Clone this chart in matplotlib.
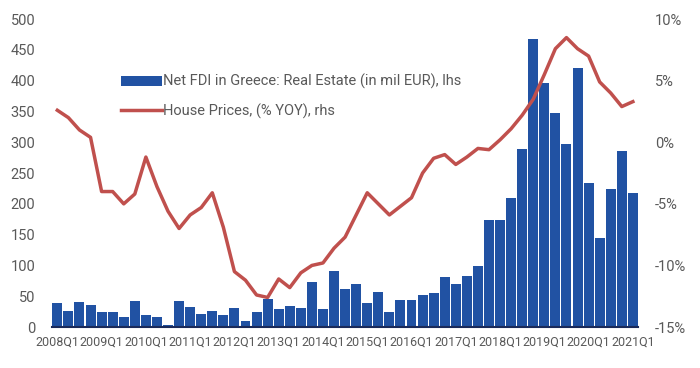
import numpy as np
import matplotlib
matplotlib.use('Agg')
import matplotlib.pyplot as plt
from matplotlib.ticker import FuncFormatter

plt.rcParams['font.family'] = ['Roboto', 'DejaVu Sans']

years = list(range(2008, 2022))
quarters = [f'{y}Q{q}' for y in years for q in range(1, 5)][:53]

# net FDI in real estate, mil EUR (lhs)
fdi = [39, 26, 40, 36,
       24, 25, 17, 43,
       19, 16, 3, 43,
       33, 21, 26, 19,
       31, 10, 24, 45,
       29, 34, 31, 73,
       29, 91, 62, 70,
       39, 57, 24, 44,
       44, 52, 56, 81,
       70, 83, 99, 174,
       174, 210, 289, 467,
       396, 347, 297, 420,
       234, 144, 224, 286,
       217]

# house prices % yoy (rhs)
hp = [2.6, 2.0, 1.0, 0.4,
      -4.0, -4.0, -5.0, -4.2,
      -1.2, -3.6, -5.6, -7.0,
      -5.9, -5.3, -4.1, -6.9,
      -10.5, -11.2, -12.4, -12.6,
      -11.1, -11.8, -10.6, -10.0,
      -9.8, -8.6, -7.7, -5.9,
      -4.1, -5.0, -5.9, -5.2,
      -4.5, -2.5, -1.3, -1.0,
      -1.8, -1.2, -0.5, -0.6,
      0.2, 1.1, 2.2, 3.5,
      5.5, 7.6, 8.5, 7.6,
      7.0, 4.9, 4.0, 2.9,
      3.3]

grey = '#595959'
blue = '#2152A3'
red = '#C0504D'

fig = plt.figure(figsize=(7, 3.68), dpi=100)
ax = fig.add_axes([0.074, 0.1114, 0.838, 0.8366])
x = np.arange(len(quarters))
b = ax.bar(x, fdi, width=0.9, color=blue, label='Net FDI in Greece: Real Estate (in mil EUR), lhs')
ax.set_xlim(-0.5, len(quarters) - 0.5)
ax.set_ylim(0, 500)
ax.set_yticks(range(0, 501, 50))
ax.set_xticks(x[::4])
ax.set_xticklabels(quarters[::4])

ax2 = ax.twinx()
l, = ax2.plot(x, hp, color=red, lw=2.5, label='House Prices, (% YOY), rhs')
ax2.set_ylim(-15, 10)
ax2.set_yticks(range(-15, 11, 5))
ax2.yaxis.set_major_formatter(FuncFormatter(lambda v, p: f'{v:.0f}%'))

for a in (ax, ax2):
    for s in a.spines.values():
        s.set_visible(False)
    a.tick_params(length=0, colors=grey, labelsize=10.5)
ax.spines['bottom'].set_visible(True)
ax.spines['bottom'].set_color('#1a2a5a')
ax.spines['bottom'].set_linewidth(1.5)
ax.tick_params(axis='y', pad=12)
ax.tick_params(axis='x', pad=6, labelsize=9)
ax2.tick_params(axis='y', pad=12)

leg = ax2.legend([b, l], [b.get_label(), l.get_label()], loc='upper left',
                 bbox_to_anchor=(0.105, 0.845), frameon=False, fontsize=10.5,
                 labelcolor=grey, handlelength=2.8, handletextpad=0.1,
                 labelspacing=0.95, borderpad=0)

fig.savefig('out.png', dpi=100)
